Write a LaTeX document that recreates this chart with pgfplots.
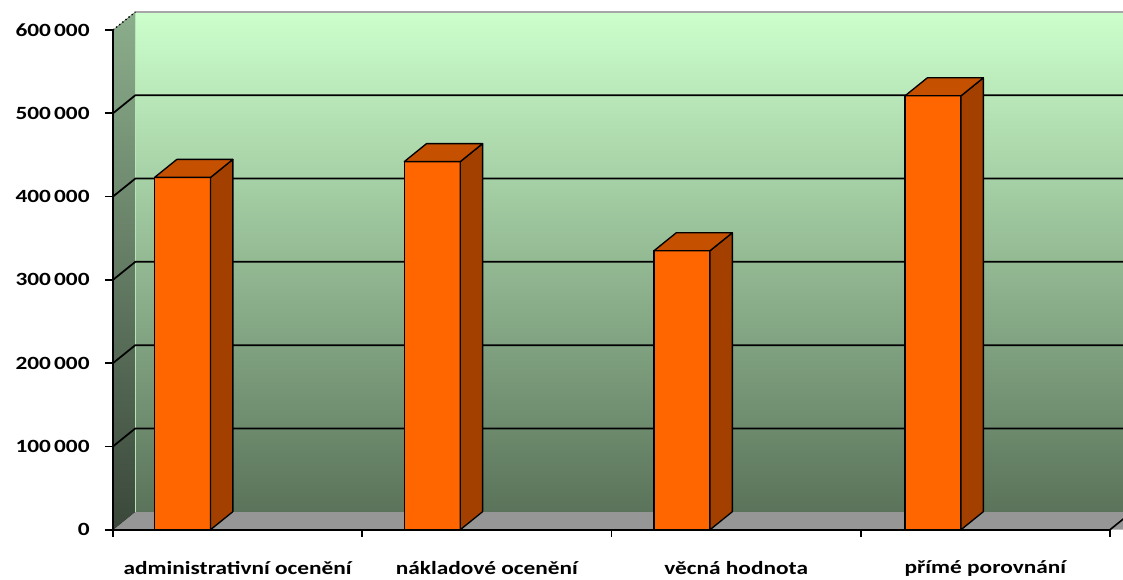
\documentclass[border=0pt]{standalone}
\usepackage{fontspec}
\setmainfont{Carlito}[FakeStretch=1.25]
\usepackage{pgfplots}
\pgfplotsset{compat=1.18}

\definecolor{barfront}{HTML}{FF6600}
\definecolor{bartop}{HTML}{C45000}
\definecolor{barside}{HTML}{A34000}
\definecolor{walltop}{HTML}{CCFFCC}
\definecolor{wallmid}{HTML}{9CC29C}
\definecolor{wallbot}{HTML}{5A735A}
\definecolor{sidetop}{HTML}{8CAE8C}
\definecolor{sidebot}{HTML}{3A473A}
\definecolor{floorgray}{HTML}{969696}
\definecolor{walledge}{HTML}{B5E6B5}

% empty mark: the 3D faces are drawn by the scatter marker code
\pgfdeclareplotmark{blank}{}

% x: bar centre (category index + offset), y: value
\pgfplotstableread{
x y
0.279 423000
1.281 442000
2.283 335000
3.290 521000
}\valuetable

\begin{document}
\begin{tikzpicture}
\useasboundingbox (0,0) rectangle (842.25pt,434.25pt);
\begin{axis}[
  at={(84.75pt,36.975pt)}, anchor=south west,
  scale only axis, width=747.75pt, height=374.775pt,
  xmin=0, xmax=4, ymin=0, ymax=600000,
  clip=false, axis on top,
  axis x line*=bottom, axis y line*=left,
  axis line style={line width=1.2pt, black},
  ytick={0,100000,...,600000},
  yticklabels={0,100\,000,200\,000,300\,000,400\,000,500\,000,600\,000},
  scaled y ticks=false,
  xtick={0.5,1.5,2.5,3.5},
  xticklabels={administrativní ocenění, nákladové ocenění, věcná hodnota, přímé porovnání},
  minor xtick={0,1,2,3,4},
  major x tick style={draw=none},
  tick align=outside,
  major tick length=6pt, minor tick length=5.25pt,
  tick style={line width=1.2pt, black},
  tick label style={font=\bfseries\fontsize{14}{16}\selectfont},
  xticklabel style={yshift=-14pt},
  yticklabel style={xshift=-8pt},
]
% floor
\fill[floorgray] (axis cs:0,0) -- (axis cs:4.5,0) -- ++(16.725pt,13.5pt) -- (axis cs:0.0895,21613) -- cycle;
% back wall
\fill[top color=walltop, middle color=wallmid, bottom color=wallbot]
  (axis cs:0.0895,21613) rectangle (axis cs:4.5,621613);
% side wall
\fill[top color=sidetop, bottom color=sidebot]
  (axis cs:0,0) -- (axis cs:0,600000) -- ++(16.725pt,13.5pt) -- (axis cs:0.0895,21613) -- cycle;
\draw[walledge, line width=0.8pt] (axis cs:0.0895,21613) -- (axis cs:0.0895,621613);
\draw[gray!70, line width=0.8pt] (axis cs:0.0895,621613) -- (axis cs:4.5,621613);
\draw[black, dotted, line width=1pt] (axis cs:0,600000) -- ++(16.725pt,13.5pt);
% grid lines on side and back walls
\pgfplotsinvokeforeach{100000,200000,300000,400000,500000}{
  \draw[black, line width=1.3pt] (axis cs:0,#1) -- ++(16.725pt,13.5pt) -- ++(800pt,0pt);
}
% floor right edge
\draw[black, line width=1.2pt] (axis cs:4,0) -- ++(16.725pt,13.5pt);

% front faces of the columns
\addplot[ybar, bar width=0.2247, fill=barfront, draw=black, line width=1pt]
  table[x=x, y=y] {\valuetable};
% top and side faces of the columns
\addplot[only marks, mark=blank, scatter,
  point meta=y, point meta min=0, point meta max=600000,
  scatter/@pre marker code/.code={%
    \pgfmathsetmacro\colh{\pgfplotspointmetatransformed*0.374775}%
    \pgfsetlinewidth{1pt}\pgfsetroundjoin\pgfsetstrokecolor{black}%
    \pgfpathmoveto{\pgfpoint{21pt}{0pt}}%
    \pgfpathlineto{\pgfpoint{37.725pt}{13.5pt}}%
    \pgfpathlineto{\pgfpoint{37.725pt}{13.5pt-\colh pt}}%
    \pgfpathlineto{\pgfpoint{21pt}{-\colh pt}}%
    \pgfpathclose
    \pgfsetfillcolor{barside}\pgfusepath{fill,stroke}%
    \pgfpathmoveto{\pgfpoint{-21pt}{0pt}}%
    \pgfpathlineto{\pgfpoint{21pt}{0pt}}%
    \pgfpathlineto{\pgfpoint{37.725pt}{13.5pt}}%
    \pgfpathlineto{\pgfpoint{-4.275pt}{13.5pt}}%
    \pgfpathclose
    \pgfsetfillcolor{bartop}\pgfusepath{fill,stroke}%
  },
  scatter/@post marker code/.code={},
] table[x=x, y=y] {\valuetable};
\end{axis}
\end{tikzpicture}
\end{document}
